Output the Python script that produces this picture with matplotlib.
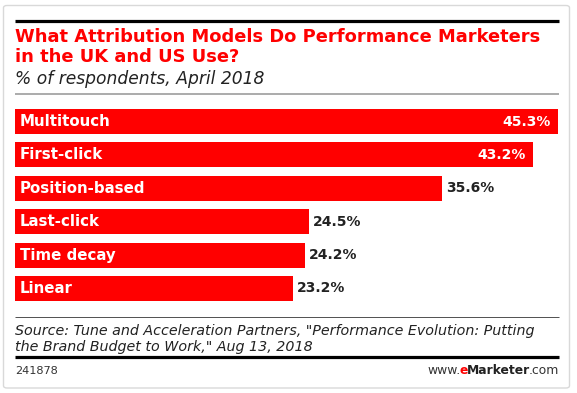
import matplotlib
matplotlib.use("Agg")
import matplotlib.pyplot as plt
from matplotlib.patches import FancyBboxPatch
from matplotlib.lines import Line2D

W, H = 577, 393

MODELS = ["Multitouch", "First-click", "Position-based", "Last-click", "Time decay", "Linear"]
VALUES = [45.3, 43.2, 35.6, 24.5, 24.2, 23.2]

TITLE = ["What Attribution Models Do Performance Marketers", "in the UK and US Use?"]
SUBTITLE = "% of respondents, April 2018"
SOURCE = ['Source: Tune and Acceleration Partners, "Performance Evolution: Putting',
          'the Brand Budget to Work," Aug 13, 2018']
CHART_ID = "241878"
BRAND = [("www.", "#333333", "normal"), ("e", "#FF0000", "bold"),
         ("Marketer", "#222222", "bold"), (".com", "#333333", "normal")]

RED = "#FF0000"


def fx(px):
    return px / W


def fy(py):
    # pixel y measured from the top
    return 1 - py / H


def hline(fig, y, x0, x1, color, width_px):
    fig.add_artist(Line2D([fx(x0), fx(x1)], [fy(y), fy(y)], color=color,
                          linewidth=width_px * 0.72, solid_capstyle="butt",
                          transform=fig.transFigure))


fig = plt.figure(figsize=(W / 100, H / 100), dpi=100)
fig.patch.set_facecolor("white")

# card outline
fig.add_artist(FancyBboxPatch((fx(3.5), fy(388)), fx(566), (388 - 5.5) / H,
                              boxstyle="round,pad=0,rounding_size=0.006",
                              facecolor="white", edgecolor="#d9d9d9", linewidth=1.0,
                              transform=fig.transFigure, zorder=0))

# header
hline(fig, 20.7, 15, 559, "black", 3.2)
fig.text(fx(15), fy(42), TITLE[0], color=RED, fontsize=12.85,
         fontweight="bold", va="baseline", ha="left")
fig.text(fx(15), fy(62), TITLE[1], color=RED, fontsize=12.85,
         fontweight="bold", va="baseline", ha="left")
fig.text(fx(15), fy(84), SUBTITLE, color="#222222", fontsize=12.3, style="italic",
         va="baseline", ha="left")
hline(fig, 94, 15, 559, "#999999", 1.6)

# bars
x_left, x_right = 15.3, 558
y_top, y_bot = 109, 301
ax = fig.add_axes([fx(x_left), fy(y_bot), (x_right - x_left) / W, (y_bot - y_top) / H])
n = len(MODELS)
ax.set_xlim(0, max(VALUES))
ax.set_ylim(n - 1 + 0.375, -0.375)
ax.axis("off")
ax.barh(range(n), VALUES, height=0.75, color=RED, edgecolor="none")

for i, (name, val) in enumerate(zip(MODELS, VALUES)):
    ax.annotate(name, xy=(0, i), xytext=(4.7, 0), textcoords="offset pixels",
                color="white", fontsize=10.8, fontweight="bold",
                va="center", ha="left")
    if val >= 40:
        ax.annotate(f"{val:.1f}%", xy=(val, i), xytext=(-7, 0), textcoords="offset pixels",
                    color="white", fontsize=10, fontweight="bold", va="center", ha="right")
    else:
        ax.annotate(f"{val:.1f}%", xy=(val, i), xytext=(4, 0), textcoords="offset pixels",
                    color="#222222", fontsize=10, fontweight="bold", va="center", ha="left")

# footer
hline(fig, 317, 15, 559, "#555555", 1.0)
fig.text(fx(15), fy(335), SOURCE[0], color="#222222", fontsize=10.3,
         style="italic", va="baseline", ha="left")
fig.text(fx(15), fy(350.5), SOURCE[1], color="#222222", fontsize=10.3,
         style="italic", va="baseline", ha="left")
hline(fig, 357, 15, 559, "black", 3.2)
fig.text(fx(15), fy(374), CHART_ID, color="#333333", fontsize=8.1, va="baseline", ha="left")

# www.eMarketer.com: measure the pieces, then lay them out ending at x=559
renderer = fig.canvas.get_renderer()
kern = 1.2  # pull pieces together a little, the periods are wide in DejaVu
pieces = []
for txt, col, wt in BRAND:
    t = fig.text(0, fy(374), txt, color=col, fontsize=8.9, fontweight=wt,
                 va="baseline", ha="left")
    pieces.append((t, t.get_window_extent(renderer).width - kern))
x = 559 - kern - sum(w for _, w in pieces)
for t, w in pieces:
    t.set_x(fx(x))
    x += w

fig.savefig("out.png", dpi=100, facecolor="white")
